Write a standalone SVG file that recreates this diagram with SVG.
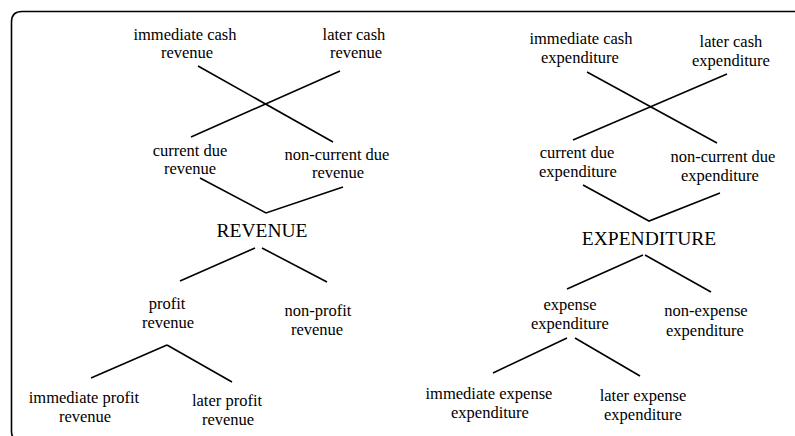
<svg xmlns="http://www.w3.org/2000/svg" width="795" height="436" viewBox="0 0 795 436">
<style>
.t{font-family:'Liberation Serif','Times New Roman',Times,serif;font-size:16.5px;fill:#000;text-anchor:middle}
.big{font-size:19.5px}
.c line,.c polyline{stroke:#000;stroke-width:1.6;fill:none}
</style>
<rect width="795" height="436" fill="#fff"/>
<path d="M30 441 H21.5 Q11.5 441 11.5 431 V22 Q11.5 11.5 22 11.5 H800" fill="none" stroke="#000" stroke-width="1.6"/>
<g class="c" id="connectors">
<line x1="198" y1="66" x2="333" y2="142"/>
<line x1="340" y1="71" x2="191" y2="137"/>
<polyline points="200,178 266,213 343,187"/>
<line x1="255" y1="248" x2="180" y2="281"/>
<line x1="262" y1="248" x2="327" y2="282"/>
<line x1="167" y1="345" x2="91" y2="378"/>
<line x1="167" y1="345" x2="232" y2="382"/>
<line x1="587" y1="72" x2="717" y2="143"/>
<line x1="727" y1="74" x2="573" y2="140"/>
<polyline points="583,185 649,221 720,193"/>
<line x1="643" y1="255" x2="567" y2="289"/>
<line x1="645" y1="255" x2="711" y2="292"/>
<line x1="567" y1="338" x2="493" y2="373"/>
<line x1="575" y1="338" x2="640" y2="376"/>
</g>
<g class="t" font-family="Liberation Serif, Times New Roman, serif">
<g id="rev-imm-cash"><text x="185" y="40">immediate cash</text><text x="187" y="58">revenue</text></g>
<g id="rev-later-cash"><text x="354" y="40">later cash</text><text x="356" y="58">revenue</text></g>
<g id="rev-current"><text x="190" y="156">current due</text><text x="190" y="174">revenue</text></g>
<g id="rev-noncurrent"><text x="337" y="160">non-current due</text><text x="338" y="178">revenue</text></g>
<g id="revenue"><text class="big" x="262" y="237">REVENUE</text></g>
<g id="rev-profit"><text x="167" y="309">profit</text><text x="168" y="328">revenue</text></g>
<g id="rev-nonprofit"><text x="318" y="316">non-profit</text><text x="317" y="335">revenue</text></g>
<g id="rev-imm-profit"><text x="84" y="403">immediate profit</text><text x="85" y="422">revenue</text></g>
<g id="rev-later-profit"><text x="227" y="406">later profit</text><text x="228" y="425">revenue</text></g>
<g id="exp-imm-cash"><text x="581" y="44">immediate cash</text><text x="580" y="63">expenditure</text></g>
<g id="exp-later-cash"><text x="731" y="47">later cash</text><text x="731" y="66">expenditure</text></g>
<g id="exp-current"><text x="577" y="158">current due</text><text x="578" y="177">expenditure</text></g>
<g id="exp-noncurrent"><text x="723" y="162">non-current due</text><text x="720" y="181">expenditure</text></g>
<g id="expenditure"><text class="big" x="649" y="245">EXPENDITURE</text></g>
<g id="exp-expense"><text x="570" y="310">expense</text><text x="570" y="329">expenditure</text></g>
<g id="exp-nonexpense"><text x="706" y="316">non-expense</text><text x="705" y="336">expenditure</text></g>
<g id="exp-imm-expense"><text x="489" y="399">immediate expense</text><text x="490" y="418">expenditure</text></g>
<g id="exp-later-expense"><text x="643" y="401">later expense</text><text x="643" y="420">expenditure</text></g>
</g>
</svg>
